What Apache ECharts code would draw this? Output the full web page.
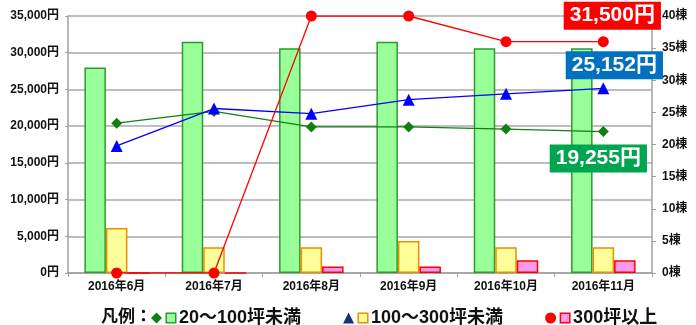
<!DOCTYPE html>
<html>
<head>
<meta charset="utf-8">
<script src="https://cdn.jsdelivr.net/npm/echarts@6/dist/echarts.min.js"></script>
<style>
  html, body { margin: 0; padding: 0; background: #fff; }
  #chart { width: 696px; height: 325px; }
</style>
</head>
<body>
<div id="chart"></div>
<script>
// Months on the category axis
const months = ['2016年6月', '2016年7月', '2016年8月', '2016年9月', '2016年10月', '2016年11月'];

// Number of buildings (right axis, 棟)
const count20to100 = [32, 36, 35, 36, 35, 35];
const count100to300 = [7, 4, 4, 5, 4, 4];
const count300plus = [0, 0, 1, 1, 2, 2];

// Average price (left axis, 円)
const price20to100 = [20400, 22000, 19900, 19900, 19600, 19255];
const price100to300 = [17300, 22400, 21700, 23600, 24400, 25152];
const price300plus = [0, 0, 35000, 35000, 31500, 31500];

// Axis tick settings
const yenTicks = { min: 0, max: 35000, interval: 5000 };
const countTicks = { min: 0, max: 40, interval: 5 };

const FONT = "'Liberation Sans', 'Noto Sans CJK JP', sans-serif";

const fmtYen = v => v.toLocaleString('en-US') + '円';

// Put a callout on the last point of a series
function withCallout(values, bg, offset) {
  const last = values.length - 1;
  return values.map((v, i) => i !== last ? v : {
    value: v,
    label: {
      show: true,
      position: 'inside',
      offset: offset,
      formatter: p => fmtYen(p.value),
      color: '#fff',
      fontFamily: FONT,
      fontWeight: 'bold',
      fontSize: 21,
      backgroundColor: bg,
      padding: [4, 6, 3, 6]
    }
  });
}

const chart = echarts.init(document.getElementById('chart'), null, { renderer: 'canvas' });

const barBase = { type: 'bar', yAxisIndex: 1, barWidth: 21.5, barGap: '0%', z: 2 };
const lineBase = { type: 'line', yAxisIndex: 0, z: 5, lineStyle: { width: 1.3 }, emphasis: { disabled: true } };

const legendBox = (fill, stroke) => ({
  width: 8, height: 8, backgroundColor: fill, borderColor: stroke, borderWidth: 1.5
});

// Legend entry: line marker, bar swatch, then the size class
const legendKeys = { '20～100坪未満': 'g', '100～300坪未満': 'y', '300坪以上': 'p' };

chart.setOption({
  animation: false,
  backgroundColor: '#fff',
  title: {
    text: '凡例：',
    left: 96, top: 304,
    textStyle: { fontFamily: FONT, fontWeight: 'bold', fontSize: 17, color: '#111' }
  },
  legend: {
    left: 146, top: 304,
    itemWidth: 11, itemHeight: 11, itemGap: 42,
    selectedMode: false,
    data: [
      { name: '20～100坪未満', icon: 'diamond', itemStyle: { color: '#118011' } },
      { name: '100～300坪未満', icon: 'triangle', itemStyle: { color: '#1a2f75' } },
      { name: '300坪以上', icon: 'circle', itemStyle: { color: '#ff0000' } }
    ],
    formatter: name => '{' + legendKeys[name] + '|}{s|}{t|' + name + '}',
    textStyle: {
      fontFamily: FONT, fontWeight: 'bold', fontSize: 18, color: '#111',
      rich: {
        g: legendBox('#99ff99', '#2e9a2e'),
        y: legendBox('#ffff99', '#f08c00'),
        p: legendBox('#ff99ee', '#ff0000'),
        s: { width: 4 },
        t: { fontFamily: FONT, fontWeight: 'bold', fontSize: 18, color: '#111' }
      }
    }
  },
  grid: { left: 68, right: 44, top: 16, bottom: 52, containLabel: false },
  xAxis: {
    type: 'category',
    data: months,
    axisLine: { lineStyle: { color: '#a0a0a0', width: 1.5 } },
    axisTick: { show: true, length: 4, lineStyle: { color: '#a0a0a0' } },
    axisLabel: { color: '#111', fontFamily: FONT, fontWeight: 'bold', fontSize: 12, margin: 8 }
  },
  yAxis: [
    {
      type: 'value',
      min: yenTicks.min, max: yenTicks.max, interval: yenTicks.interval,
      axisLine: { show: true, lineStyle: { color: '#a0a0a0', width: 1.5 } },
      axisTick: { show: true, length: 3, lineStyle: { color: '#a0a0a0' } },
      splitLine: { lineStyle: { color: '#a8a8a8', width: 1.5 } },
      axisLabel: { formatter: v => fmtYen(v), color: '#111', fontFamily: FONT, fontWeight: 'bold', fontSize: 12, margin: 9 }
    },
    {
      type: 'value', position: 'right',
      min: countTicks.min, max: countTicks.max, interval: countTicks.interval,
      axisLine: { show: true, lineStyle: { color: '#a0a0a0', width: 1.5 } },
      axisTick: { show: true, length: 4, lineStyle: { color: '#a0a0a0' } },
      splitLine: { show: false },
      axisLabel: { formatter: v => v + '棟', color: '#111', fontFamily: FONT, fontWeight: 'bold', fontSize: 12, margin: 10 }
    }
  ],
  series: [
    Object.assign({}, barBase, {
      name: '20～100坪未満 棟数', data: count20to100,
      itemStyle: { color: '#99ff99', borderColor: '#2e9a2e', borderWidth: 1.5 }
    }),
    Object.assign({}, barBase, {
      name: '100～300坪未満 棟数', data: count100to300,
      itemStyle: { color: '#ffff99', borderColor: '#f08c00', borderWidth: 1.5 }
    }),
    Object.assign({}, barBase, {
      name: '300坪以上 棟数', data: count300plus,
      itemStyle: { color: '#ff99ee', borderColor: '#ff0000', borderWidth: 1.5 }
    }),
    Object.assign({}, lineBase, {
      name: '20～100坪未満',
      data: withCallout(price20to100, '#00a550', [-5, 27]),
      symbol: 'diamond', symbolSize: 11,
      itemStyle: { color: '#118011' },
      lineStyle: { width: 1.3, color: '#118011' }
    }),
    Object.assign({}, lineBase, {
      name: '100～300坪未満',
      data: withCallout(price100to300, '#0070c0', [11, -23]),
      symbol: 'triangle', symbolSize: 12,
      itemStyle: { color: '#0000ff' },
      lineStyle: { width: 1.3, color: '#0000ff' }
    }),
    Object.assign({}, lineBase, {
      name: '300坪以上',
      data: withCallout(price300plus, '#ff0000', [9, -26]),
      symbol: 'circle', symbolSize: 11,
      itemStyle: { color: '#ff0000' },
      lineStyle: { width: 1.3, color: '#ff0000' }
    })
  ]
});
</script>
</body>
</html>
